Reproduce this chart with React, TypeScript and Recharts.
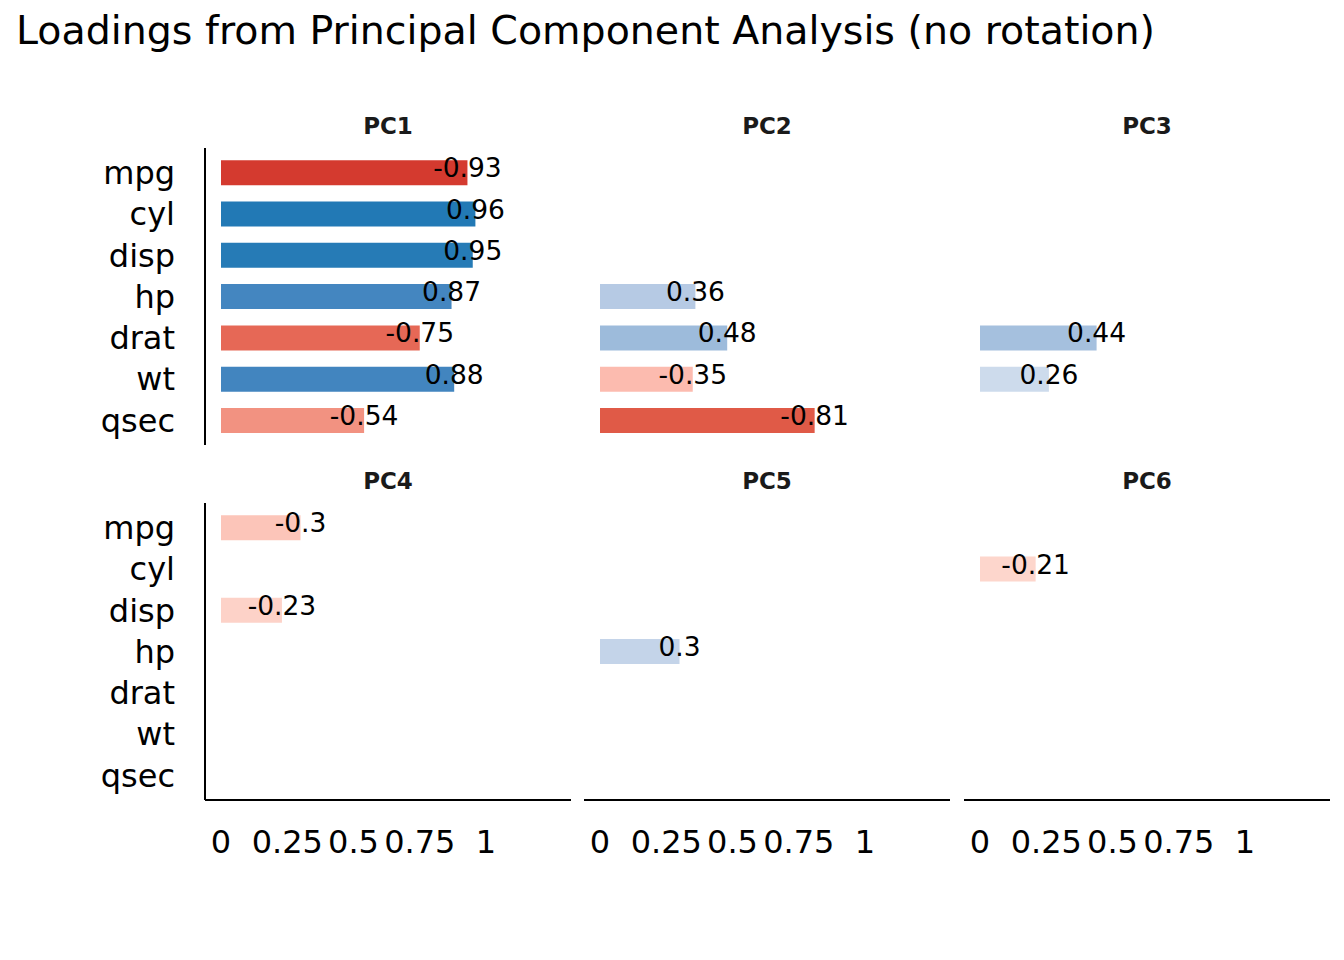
import React from 'react';
import { BarChart, Bar, XAxis, YAxis, Cell, LabelList } from 'recharts';

// Loadings (only |loading| >= 0.2 are shown; null = hidden)
const variables = ['mpg', 'cyl', 'disp', 'hp', 'drat', 'wt', 'qsec'];
const components = ['PC1', 'PC2', 'PC3', 'PC4', 'PC5', 'PC6'];

const pc1 = [-0.93, 0.96, 0.95, 0.87, -0.75, 0.88, -0.54];
const pc2 = [null, null, null, 0.36, 0.48, -0.35, -0.81];
const pc3 = [null, null, null, null, 0.44, 0.26, null];
const pc4 = [-0.3, null, -0.23, null, null, null, null];
const pc5 = [null, null, null, 0.3, null, null, null];
const pc6 = [null, -0.21, null, null, null, null, null];

const xTicks = [0, 0.25, 0.5, 0.75, 1];

const loadings = [pc1, pc2, pc3, pc4, pc5, pc6];

// layout
const FONT = '"DejaVu Sans", Verdana, sans-serif';
const PANEL_LEFT = [205, 584, 964];
const PANEL_W = 366;
const ROW_TOP = [148, 503];
const PANEL_H = 297;
const Y_AXIS_W = 205;
const X_AXIS_H = 60;
const ZERO_OFFSET = 16;
const PX_PER_UNIT = 265;
const xDomain = [-ZERO_OFFSET / PX_PER_UNIT, (PANEL_W - ZERO_OFFSET) / PX_PER_UNIT];

// diverging fill (red = negative, blue = positive), by magnitude
const negStops: Array<[number, number[]]> = [
  [0, [255, 245, 240]],
  [0.21, [253, 214, 204]],
  [0.35, [252, 187, 175]],
  [0.54, [242, 146, 129]],
  [0.75, [230, 104, 86]],
  [0.81, [224, 90, 71]],
  [0.93, [212, 58, 47]],
  [1, [200, 40, 34]],
];
const posStops: Array<[number, number[]]> = [
  [0, [240, 244, 250]],
  [0.26, [205, 219, 236]],
  [0.36, [182, 202, 228]],
  [0.48, [157, 187, 219]],
  [0.88, [66, 133, 191]],
  [0.96, [34, 121, 181]],
  [1, [28, 110, 172]],
];

const fillFor = (v: number) => {
  const stops = v < 0 ? negStops : posStops;
  const m = Math.min(1, Math.abs(v));
  for (let i = 1; i < stops.length; i++) {
    const [a, ca] = stops[i - 1];
    const [b, cb] = stops[i];
    if (m <= b) {
      const t = (m - a) / (b - a);
      const c = ca.map((x, k) => Math.round(x + (cb[k] - x) * t));
      return `rgb(${c[0]},${c[1]},${c[2]})`;
    }
  }
  const last = stops[stops.length - 1][1];
  return `rgb(${last[0]},${last[1]},${last[2]})`;
};

const ValueLabel = (props: any) => {
  const { x, y, width, height, value } = props;
  if (value === null || value === undefined) return null;
  return (
    <text
      x={x + width}
      y={y + height / 2 - 5}
      textAnchor="middle"
      dominantBaseline="central"
      fontFamily={FONT}
      fontSize={26.5}
      fill="#000"
    >
      {value}
    </text>
  );
};

const Panel = ({ index }: { index: number }) => {
  const col = index % 3;
  const row = Math.floor(index / 3);
  const values = loadings[index];
  const data = variables.map((name, i) => ({
    name,
    loading: values[i],
    size: values[i] === null ? null : Math.abs(values[i] as number),
  }));
  const leftCol = col === 0;
  const bottomRow = row === 1;
  const width = PANEL_W + (leftCol ? Y_AXIS_W : 0);
  const height = PANEL_H + (bottomRow ? X_AXIS_H : 0);
  const left = PANEL_LEFT[col] - (leftCol ? Y_AXIS_W : 0);
  const top = ROW_TOP[row];

  return (
    <>
      <div
        style={{
          position: 'absolute',
          left: PANEL_LEFT[col],
          width: PANEL_W,
          top: top - 34,
          textAlign: 'center',
          fontFamily: FONT,
          fontWeight: 700,
          fontSize: 23,
          lineHeight: '24px',
          color: '#1a1a1a',
        }}
      >
        {components[index]}
      </div>
      <div style={{ position: 'absolute', left, top }}>
        <BarChart
          width={width}
          height={height}
          data={data}
          layout="vertical"
          margin={{ top: 0, right: 0, bottom: 0, left: 0 }}
          barCategoryGap="20%"
          style={{ overflow: 'visible' }}
        >
          <XAxis
            type="number"
            domain={xDomain}
            allowDataOverflow
            ticks={xTicks}
            hide={!bottomRow}
            height={X_AXIS_H}
            axisLine={{ stroke: '#000', strokeWidth: 2 }}
            tickLine={false}
            tickSize={0}
            tickMargin={30}
            tick={{ fontFamily: FONT, fontSize: 32, fill: '#000' }}
            tickFormatter={(v: number) => String(v)}
          />
          <YAxis
            type="category"
            dataKey="name"
            hide={!leftCol}
            width={Y_AXIS_W}
            padding={{ top: 4, bottom: 4 }}
            axisLine={{ stroke: '#000', strokeWidth: 2 }}
            tickLine={false}
            tickSize={0}
            tickMargin={30}
            tick={{ fontFamily: FONT, fontSize: 32, fill: '#000' }}
            interval={0}
          />
          <Bar dataKey="size" isAnimationActive={false}>
            {data.map((d, i) => (
              <Cell key={i} fill={d.loading === null ? 'none' : fillFor(d.loading)} />
            ))}
            <LabelList dataKey="loading" content={<ValueLabel />} />
          </Bar>
        </BarChart>
      </div>
    </>
  );
};

export default function App() {
  return (
    <div
      style={{
        position: 'absolute',
        left: 0,
        top: 0,
        width: 1344,
        height: 960,
        background: '#fff',
        fontFamily: FONT,
      }}
    >
      <div
        style={{
          position: 'absolute',
          left: 16,
          top: 10,
          fontSize: 39.5,
          lineHeight: '40px',
          color: '#000',
          whiteSpace: 'nowrap',
        }}
      >
        Loadings from Principal Component Analysis (no rotation)
      </div>
      {components.map((_, i) => (
        <Panel key={i} index={i} />
      ))}
    </div>
  );
}
